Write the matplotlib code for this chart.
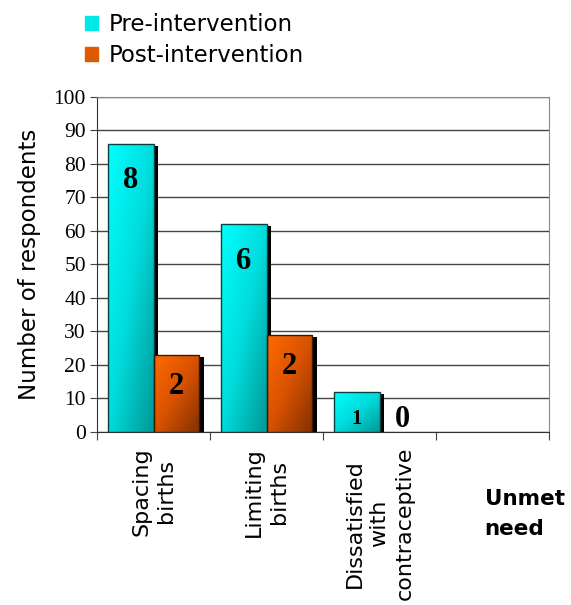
import numpy as np
import matplotlib.pyplot as plt
from matplotlib import patheffects as pe
from matplotlib.colors import LinearSegmentedColormap

categories = ["Spacing\nbirths", "Limiting\nbirths", "Dissatisfied\nwith\ncontraceptive", "Unmet\nneed"]
pre_values = [86, 62, 12]
post_values = [23, 29, 0]
pre_labels = ["8", "6", "1"]
post_labels = ["2", "2", "0"]
series_names = ["Pre-intervention", "Post-intervention"]
yticks = list(range(0, 101, 10))

cyan_map = LinearSegmentedColormap.from_list("cy", ["#00FFFF", "#00DCDC", "#009898"])
orange_map = LinearSegmentedColormap.from_list("or", ["#FF6A00", "#D85200", "#843000"])

fig = plt.figure(figsize=(5.71, 6.05), dpi=100)
ax = fig.add_axes([0.170, 0.286, 0.7915, 0.554])

sans = "DejaVu Sans"
serif = "Liberation Serif"

width = 0.4
x = np.arange(len(pre_values))

def gradient_bars(xpos, vals, cmap, edge):
    bars = ax.bar(xpos, vals, width, color=cmap(0.5), edgecolor="none", zorder=2,
                  path_effects=[pe.SimplePatchShadow(offset=(3.5, -1.5), shadow_rgbFace="black", alpha=1.0), pe.Normal()])
    u = np.linspace(0, 1, 60)
    uu, vv = np.meshgrid(u, u)
    grad = (uu + vv) / 2
    for b in bars:
        if b.get_height() <= 0:
            continue
        x0, y0 = b.get_x(), b.get_y()
        w, h = b.get_width(), b.get_height()
        im = ax.imshow(grad, cmap=cmap, extent=[x0, x0 + w, y0, y0 + h], origin="upper",
                       aspect="auto", zorder=3, interpolation="bilinear")
        im.set_clip_path(b)
        ax.add_patch(plt.Rectangle((x0, y0), w, h, fill=False, edgecolor=edge, lw=1.0, zorder=4))
    return bars

b1 = gradient_bars(x - width / 2, pre_values, cyan_map, "#0B4040")
b2 = gradient_bars(x + width / 2, post_values, orange_map, "#3A1A00")

for xi, v, lab in zip(x - width / 2, pre_values, pre_labels):
    fs = 22 if v > 20 else 15
    ax.text(xi, max(v - 11, 4.0), lab, ha="center", va="center", fontsize=fs,
            fontweight="bold", family=serif, zorder=5)
for xi, v, lab in zip(x + width / 2, post_values, post_labels):
    ax.text(xi, max(v - 9.5, 3.8), lab, ha="center", va="center", fontsize=22,
            fontweight="bold", family=serif, zorder=5)

ax.set_xlim(-0.5, 3.5)
ax.set_ylim(0, 100)
ax.set_yticks(yticks)
ax.set_yticklabels([str(t) for t in yticks], family=serif, fontsize=15.5)
ax.grid(axis="y", color="#444444", lw=1.0, zorder=0)
ax.set_axisbelow(True)

ax.set_xticks(np.arange(-0.5, 3.6, 1))
ax.set_xticklabels([])
ax.tick_params(axis="x", direction="out", length=6, color="#444444")
ax.tick_params(axis="y", direction="out", length=5, pad=3, color="#444444")

for i, cat in enumerate(categories[:3]):
    ax.text(i, -4.5, cat, rotation=90, ha="center", va="top", multialignment="center",
            fontsize=16, family=sans, linespacing=1.3)
ax.text(2.93, -17, categories[3], ha="left", va="top", fontsize=15.5, fontweight="bold",
        family=sans, linespacing=1.65)

for s in ["top", "right"]:
    ax.spines[s].set_color("#888888")
ax.spines["left"].set_color("#333333")
ax.spines["bottom"].set_color("#333333")

ax.set_ylabel("Number of respondents", fontsize=16.5, family=sans, labelpad=9)

handles = [plt.Rectangle((0, 0), 1, 1, color="#00E8E8"), plt.Rectangle((0, 0), 1, 1, color="#E05800")]
fig.legend(handles, series_names, loc="upper left", bbox_to_anchor=(0.113, 1.012), frameon=False,
           prop={"family": sans, "size": 16.5}, handlelength=0.55, handleheight=0.55,
           handletextpad=0.5, labelspacing=0.35)

fig.savefig("out.png", dpi=100)
